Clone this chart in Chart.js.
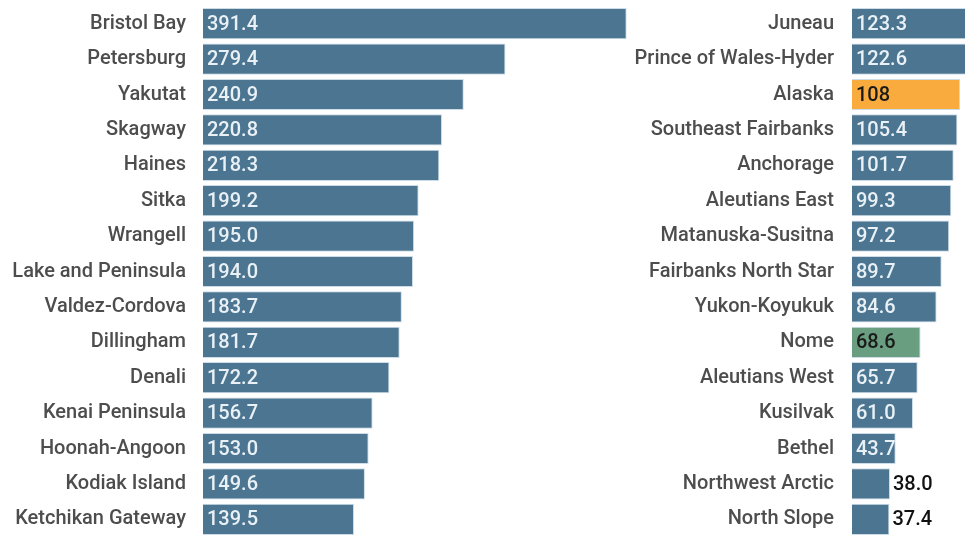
<!DOCTYPE html>
<html>
<head>
<meta charset="utf-8">
<script src="https://cdn.jsdelivr.net/npm/chart.js@4"></script>
<style>
    html, body { margin: 0; padding: 0; background: #ffffff; }
    #wrap { position: relative; width: 965px; height: 537px; overflow: hidden; }
    #leftChart { position: absolute; left: 0; top: 0; }
    #rightChart { position: absolute; left: 620px; top: 0; }
</style>
</head>
<body>
<div id="wrap">
    <canvas id="leftChart" width="640" height="537"></canvas>
    <canvas id="rightChart" width="345" height="537"></canvas>
</div>
<script>
// Columna izquierda
const leftCategories = ['Bristol Bay', 'Petersburg', 'Yakutat', 'Skagway', 'Haines', 'Sitka', 'Wrangell',
    'Lake and Peninsula', 'Valdez-Cordova', 'Dillingham', 'Denali', 'Kenai Peninsula', 'Hoonah-Angoon',
    'Kodiak Island', 'Ketchikan Gateway'];
const leftValues = [391.4, 279.4, 240.9, 220.8, 218.3, 199.2, 195.0, 194.0, 183.7, 181.7, 172.2, 156.7, 153.0, 149.6, 139.5];
const leftLabels = ['391.4', '279.4', '240.9', '220.8', '218.3', '199.2', '195.0', '194.0', '183.7', '181.7', '172.2', '156.7', '153.0', '149.6', '139.5'];

// Columna derecha
const rightCategories = ['Juneau', 'Prince of Wales-Hyder', 'Alaska', 'Southeast Fairbanks', 'Anchorage',
    'Aleutians East', 'Matanuska-Susitna', 'Fairbanks North Star', 'Yukon-Koyukuk', 'Nome',
    'Aleutians West', 'Kusilvak', 'Bethel', 'Northwest Arctic', 'North Slope'];
const rightValues = [123.3, 122.6, 108, 105.4, 101.7, 99.3, 97.2, 89.7, 84.6, 68.6, 65.7, 61.0, 43.7, 38.0, 37.4];
const rightLabels = ['123.3', '122.6', '108', '105.4', '101.7', '99.3', '97.2', '89.7', '84.6', '68.6', '65.7', '61.0', '43.7', '38.0', '37.4'];

const BAR_COLOR = '#4b7591';
const STATE_COLOR = '#f9ac3d';
const NOME_COLOR = '#6a9e80';
const FONT = 'Roboto, "Noto Sans", sans-serif';

function colorFor(name) {
    if (name === 'Alaska') return STATE_COLOR;
    if (name === 'Nome') return NOME_COLOR;
    return BAR_COLOR;
}

// Etiquetas de valor: dentro de la barra, o fuera si la barra es muy corta
const valueLabels = {
    id: 'valueLabels',
    afterDatasetsDraw(chart, args, opts) {
        const ctx = chart.ctx;
        const meta = chart.getDatasetMeta(0);
        const values = chart.data.datasets[0].data;
        ctx.save();
        ctx.font = '500 20px ' + FONT;
        ctx.textBaseline = 'middle';
        ctx.textAlign = 'left';
        meta.data.forEach((bar, i) => {
            const name = chart.data.labels[i];
            const text = opts.labels[i];
            if (values[i] < 40) {
                ctx.fillStyle = '#111111';
                ctx.fillText(text, bar.x + 3, bar.y + 1);
            } else {
                ctx.fillStyle = (name === 'Alaska' || name === 'Nome') ? '#1a1a1a' : '#e9f1f6';
                ctx.fillText(text, bar.base + 4, bar.y + 1);
            }
        });
        ctx.restore();
    }
};

function crearGrafica(id, categories, values, labels, xMax, axisWidth, tickPad, padRight) {
    const ctx = document.getElementById(id).getContext('2d');
    return new Chart(ctx, {
        type: 'bar',
        data: {
            labels: categories,
            datasets: [{
                data: values,
                backgroundColor: categories.map(colorFor),
                borderColor: '#cddde8',
                borderWidth: 1,
                barPercentage: 0.88,
                categoryPercentage: 1
            }]
        },
        options: {
            indexAxis: 'y',
            responsive: false,
            animation: false,
            devicePixelRatio: 1,
            layout: { padding: { top: 6, bottom: 0, left: 0, right: padRight } },
            plugins: {
                legend: { display: false },
                tooltip: { enabled: false },
                valueLabels: { labels: labels }
            },
            scales: {
                x: {
                    display: false,
                    min: 0,
                    max: xMax
                },
                y: {
                    grid: { display: false, drawTicks: false },
                    border: { display: false },
                    ticks: {
                        padding: tickPad,
                        color: '#4d4d4d',
                        font: { family: FONT, size: 20, weight: '500' }
                    },
                    afterFit(scale) {
                        // ancho fijo y sin relleno vertical extra
                        scale.width = axisWidth;
                        scale.paddingTop = 0;
                        scale.paddingBottom = 0;
                    }
                }
            }
        },
        plugins: [valueLabels]
    });
}

crearGrafica('leftChart', leftCategories, leftValues, leftLabels, 400, 203, 17, 4);
crearGrafica('rightChart', rightCategories, rightValues, rightLabels, 113, 232, 18, 0);
</script>
</body>
</html>
